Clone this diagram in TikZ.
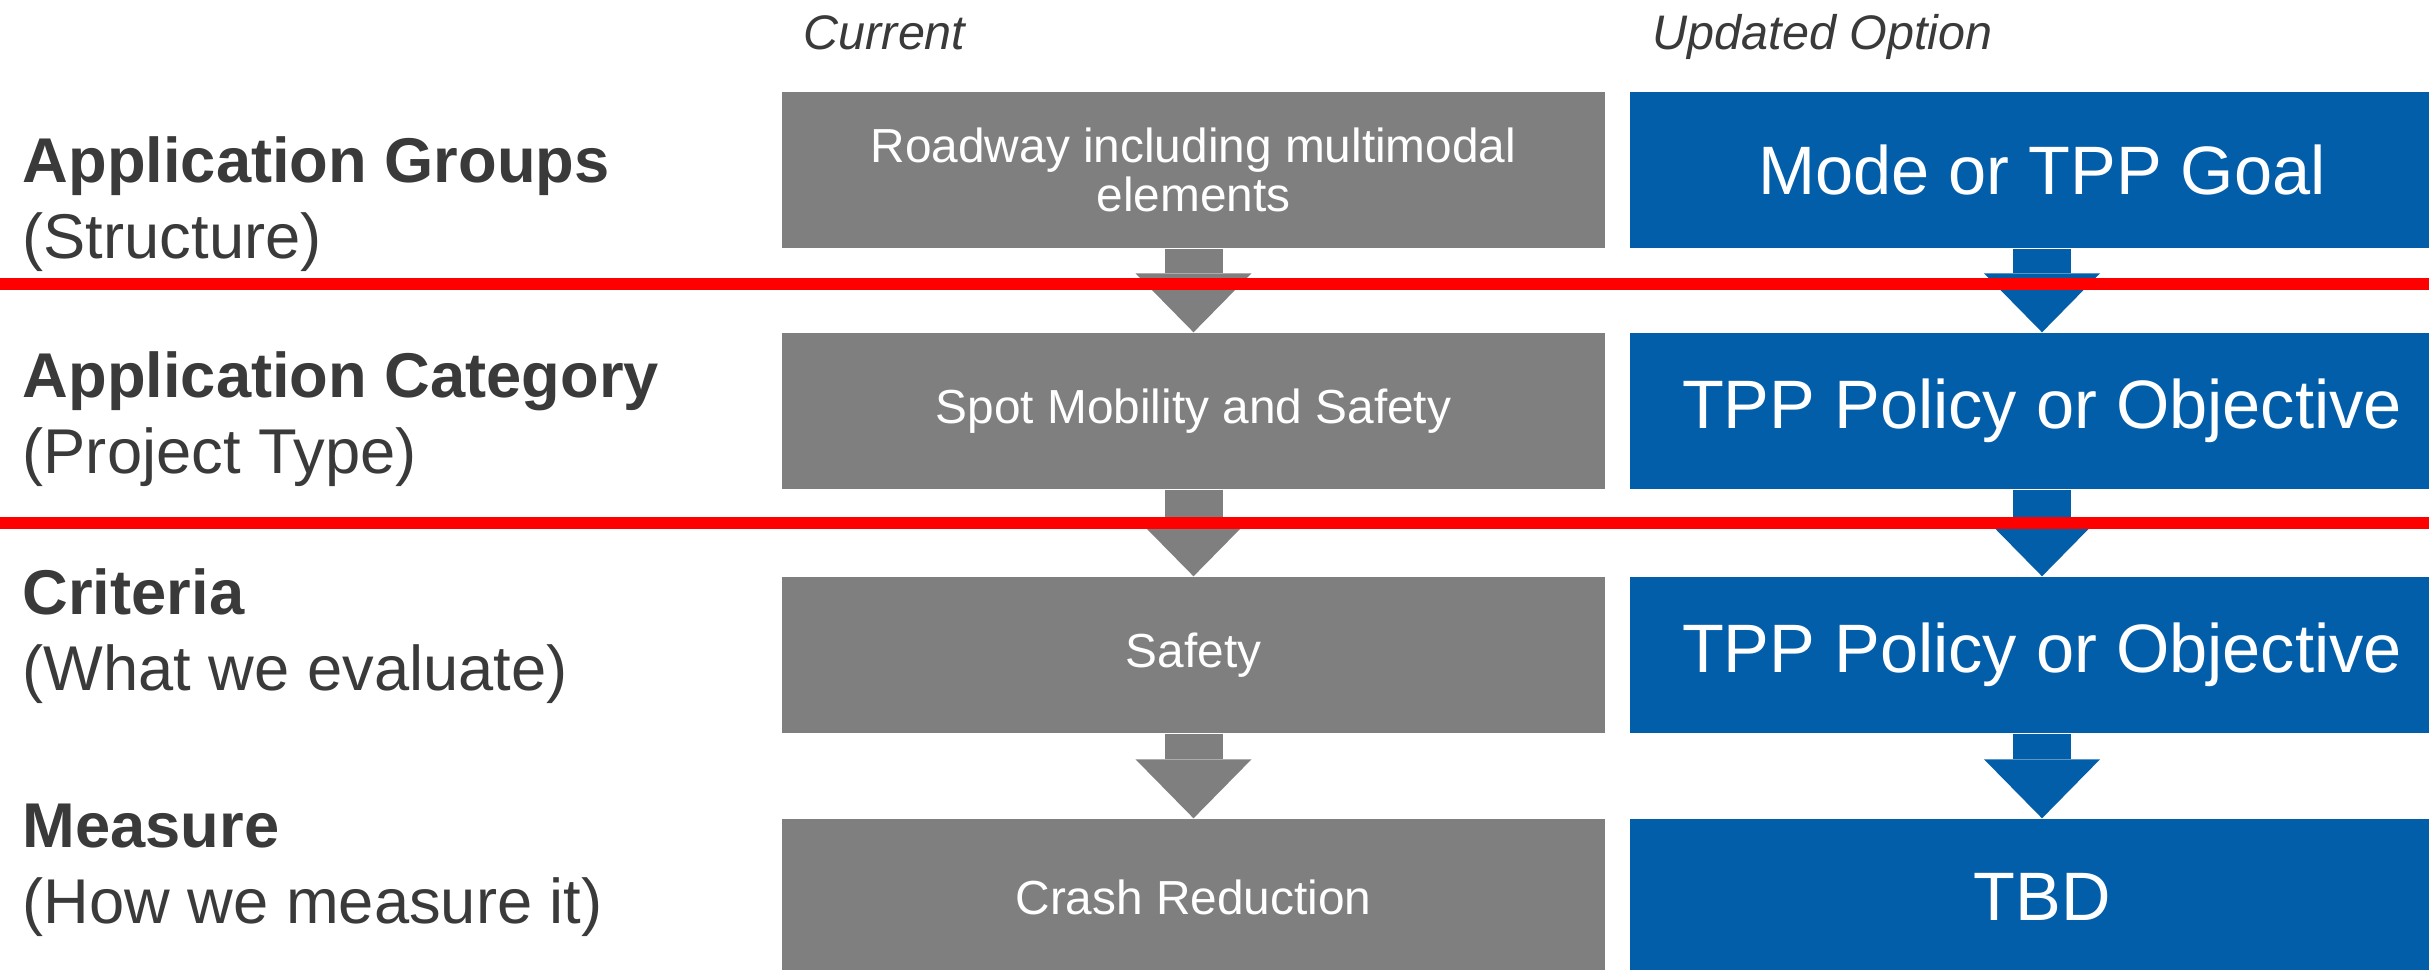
\documentclass[tikz,border=0pt]{standalone}
\usepackage{fontspec}
\setmainfont{Liberation Sans}
\usepackage{tikz}
\usetikzlibrary{calc}
\usetikzlibrary{positioning}
\usetikzlibrary{arrows.meta}

\definecolor{boxgray}{HTML}{7F7F7F}
\definecolor{boxblue}{HTML}{035EAA}
\definecolor{labelgray}{HTML}{3A3A3A}
\definecolor{sepred}{HTML}{FF0000}

\begin{document}
\begin{tikzpicture}[
    curbox/.style={fill=boxgray,text=white,inner sep=0pt,minimum width=8.23cm,minimum height=1.56cm,align=center,font=\fontsize{13.6}{14}\selectfont},
    newbox/.style={fill=boxblue,text=white,inner sep=0pt,minimum width=8.24cm,minimum height=1.56cm,align=center,font=\fontsize{19.5}{22}\selectfont},
    curarrow/.style={draw=boxgray,line width=0.58cm,-{Triangle[length=0.59cm,width=1.16cm,line width=0pt]}},
    newarrow/.style={draw=boxblue,line width=0.58cm,-{Triangle[length=0.59cm,width=1.16cm,line width=0pt]}},
    rowlabel/.style={anchor=base west,inner sep=0pt,align=left,text=labelgray,font=\fontsize{18}{21.6}\selectfont},
    colhead/.style={anchor=base west,inner sep=0pt,text=labelgray,font=\fontsize{13.8}{16}\selectfont\itshape},
    sepline/.style={draw=sepred,line width=0.12cm}
  ]
  \clip (0,0) rectangle (24.29,-9.69);

  % column heads
  \node[colhead] (hcur) at (8.03,-0.49) {Current};
  \node[colhead] (hnew) at (16.52,-0.49) {Updated Option};

  % row labels (base = last line)
  \node[rowlabel] (lgrp) at (0.22,-2.58) {\textbf{Application Groups}\\(Structure)};
  \node[rowlabel] (lcat) at (0.22,-4.73) {\textbf{Application Category}\\(Project Type)};
  \node[rowlabel] (lcrit) at (0.22,-6.90) {\textbf{Criteria}\\(What we evaluate)};
  \node[rowlabel] (lmeas) at (0.22,-9.23) {\textbf{Measure}\\(How we measure it)};

  % current
  \node[curbox] (cgrp) at (11.935,-1.70) {Roadway including multimodal\\elements};
  \node[curbox] (ccat) at (11.935,-4.11) {Spot Mobility and Safety};
  \node[curbox] (ccrit) at (11.935,-6.55) {Safety};
  \node[curbox] (cmeas) at (11.935,-8.97) {Crash Reduction};

  % updated option
  \node[newbox] (ngrp) at (20.42,-1.70) {Mode or TPP Goal};
  \node[newbox] (ncat) at (20.42,-4.11) {TPP Policy or Objective};
  \node[newbox] (ncrit) at (20.42,-6.55) {TPP Policy or Objective};
  \node[newbox] (nmeas) at (20.42,-8.97) {TBD};

  \draw[curarrow] (cgrp.south) -- (ccat.north);
  \draw[curarrow] (ccat.south) -- (ccrit.north);
  \draw[curarrow] (ccrit.south) -- (cmeas.north);
  \draw[newarrow] (ngrp.south) -- (ncat.north);
  \draw[newarrow] (ncat.south) -- (ncrit.north);
  \draw[newarrow] (ncrit.south) -- (nmeas.north);

  % red separators
  \coordinate (sa) at (0,-2.84);
  \coordinate (sb) at (24.29,-2.84);
  \coordinate (sc) at (0,-5.23);
  \coordinate (sd) at (24.29,-5.23);
  \draw[sepline] (sa) -- (sb);
  \draw[sepline] (sc) -- (sd);
\end{tikzpicture}
\end{document}
